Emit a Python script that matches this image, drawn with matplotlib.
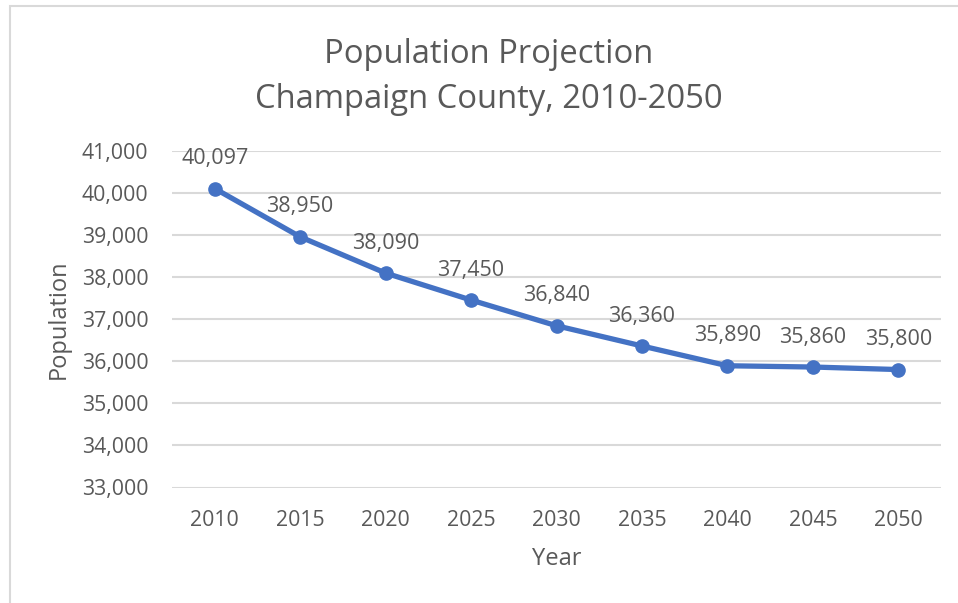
import matplotlib
matplotlib.use("Agg")
import matplotlib.pyplot as plt
from matplotlib.ticker import FuncFormatter
from matplotlib.patches import Rectangle

years = ["2010", "2015", "2020", "2025", "2030", "2035", "2040", "2045", "2050"]
population = [40097, 38950, 38090, 37450, 36840, 36360, 35890, 35860, 35800]
y_ticks = [33000, 34000, 35000, 36000, 37000, 38000, 39000, 40000, 41000]

W, H = 958, 603
plt.rcParams['font.family'] = ['Open Sans', 'DejaVu Sans']
TXT = '#595959'
fig = plt.figure(figsize=(W / 100, H / 100), dpi=100)
fig.patch.set_facecolor('white')

# outer chart border (only left and top visible)
fig.patches.append(Rectangle((10 / W, -0.05), 1.2, (H - 6) / H + 0.05,
                             transform=fig.transFigure, fill=False,
                             edgecolor='#D9D9D9', linewidth=1.5))

left, right = 172, 941
top, bottom = 150.5, 487.5
ax = fig.add_axes([left / W, 1 - bottom / H, (right - left) / W, (bottom - top) / H])
x = list(range(len(years)))
ax.plot(x, population, color='#4472C4', linewidth=3.8, marker='o',
        markersize=9.5, markerfacecolor='#4472C4', markeredgecolor='#4472C4',
        solid_capstyle='round', zorder=3)
for xi, v in zip(x, population):
    ax.annotate(f"{v:,}", (xi, v), xytext=(0, 21.5), textcoords='offset points',
                ha='center', va='center', fontsize=15.5, color=TXT)

ax.set_xlim(-0.5, len(years) - 0.5)
ax.set_ylim(33000, 41000)
ax.set_yticks(y_ticks)
ax.yaxis.set_major_formatter(FuncFormatter(lambda v, p: f"{int(v):,}"))
ax.set_xticks(x)
ax.set_xticklabels(years)
ax.grid(axis='y', color='#D9D9D9', linewidth=1.5)
ax.set_axisbelow(True)
for s in ax.spines.values():
    s.set_visible(False)
ax.tick_params(axis='both', length=0, labelsize=15.3, colors=TXT)
ax.tick_params(axis='y', pad=17)
ax.tick_params(axis='x', pad=16)
ax.set_xlabel("Year", fontsize=17, color=TXT, labelpad=12)
ax.set_ylabel("Population", fontsize=17, color=TXT, labelpad=8)

fig.text(489 / W, 1 - 77 / H, "Population Projection\nChampaign County, 2010-2050",
         ha='center', va='center', fontsize=23.6, color=TXT, linespacing=1.45)

fig.savefig("out.png", dpi=100, facecolor='white')
